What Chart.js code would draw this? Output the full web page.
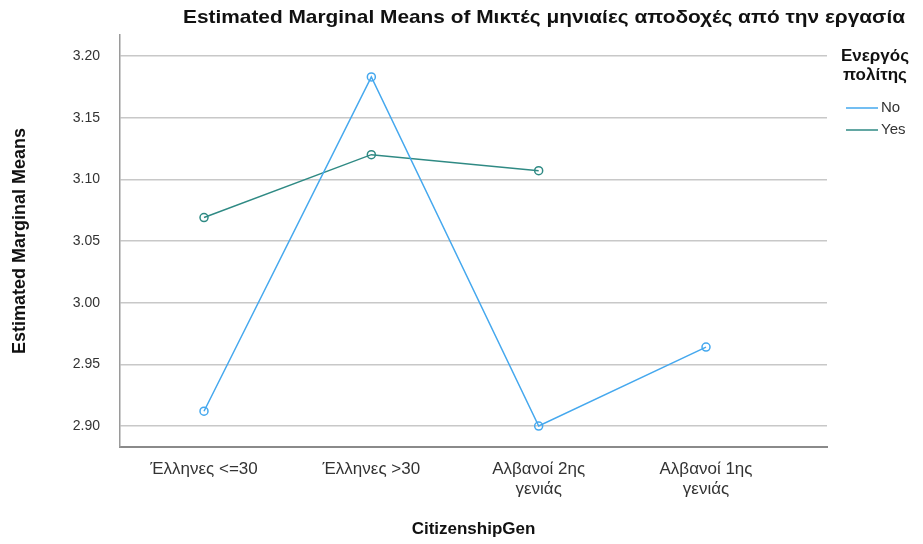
<!DOCTYPE html>
<html>
<head>
<meta charset="utf-8">
<script src="https://cdn.jsdelivr.net/npm/chart.js@4/dist/chart.umd.min.js"></script>
<style>
  html, body { margin: 0; padding: 0; background: #fff; }
  #wrap { width: 923px; height: 544px; }
</style>
</head>
<body>
<div id="wrap"><canvas id="emmChart"></canvas></div>
<script>
// ---- data ----
const categories = [['Έλληνες <=30'], ['Έλληνες >30'], ['Αλβανοί 2ης', 'γενιάς'], ['Αλβανοί 1ης', 'γενιάς']];
const seriesNo = [2.912, 3.183, 2.900, 2.964];
const seriesYes = [3.069, 3.120, 3.107, null];
const yTicks = [2.90, 2.95, 3.00, 3.05, 3.10, 3.15, 3.20];
const chartTitle = 'Estimated Marginal Means of Μικτές μηνιαίες αποδοχές από την εργασία';
const legendTitle = ['Ενεργός', 'πολίτης'];

const FONT = '"Liberation Sans Narrow", "Arial Narrow", "Liberation Sans", Arial, sans-serif';

function toPoints(values) {
    return values.map(function(v, i) { return { x: i, y: v }; });
}

// title + legend drawn around the plot, SPSS style
const sideLegend = {
    id: 'sideLegend',
    afterDraw: function(chart) {
        const ctx = chart.ctx;
        ctx.save();
        ctx.textBaseline = 'middle';

        // title fitted to the width it has in the original
        ctx.fillStyle = '#111';
        ctx.font = 'bold 19px ' + FONT;
        ctx.textAlign = 'right';
        const w = ctx.measureText(chartTitle).width;
        ctx.save();
        ctx.translate(905, 18);
        ctx.scale(722 / w, 1);
        ctx.fillText(chartTitle, 0, 0);
        ctx.restore();

        ctx.textAlign = 'center';
        ctx.font = 'bold 17px ' + FONT;
        ctx.fillText(legendTitle[0], 875, 56);
        ctx.fillText(legendTitle[1], 875, 75);
        ctx.font = '15px ' + FONT;
        ctx.textAlign = 'left';
        chart.data.datasets.forEach(function(ds, i) {
            const y = 108 + i * 22;
            ctx.strokeStyle = ds.borderColor;
            ctx.lineWidth = 1.5;
            ctx.beginPath();
            ctx.moveTo(846, y);
            ctx.lineTo(878, y);
            ctx.stroke();
            ctx.fillStyle = '#333';
            ctx.fillText(ds.label, 881, y);
        });
        ctx.restore();
    }
};

new Chart(document.getElementById('emmChart'), {
    type: 'line',
    data: {
        datasets: [{
            label: 'No',
            data: toPoints(seriesNo),
            borderColor: '#45a8ee',
            backgroundColor: 'rgba(0,0,0,0)',
            borderWidth: 1.5,
            pointRadius: 4,
            pointBorderWidth: 1.5,
            pointBorderColor: '#45a8ee',
            pointBackgroundColor: 'rgba(0,0,0,0)',
            tension: 0
        }, {
            label: 'Yes',
            data: toPoints(seriesYes),
            borderColor: '#2f8a84',
            backgroundColor: 'rgba(0,0,0,0)',
            borderWidth: 1.5,
            pointRadius: 4,
            pointBorderWidth: 1.5,
            pointBorderColor: '#2f8a84',
            pointBackgroundColor: 'rgba(0,0,0,0)',
            spanGaps: false,
            tension: 0
        }]
    },
    options: {
        responsive: true,
        maintainAspectRatio: false,
        animation: false,
        layout: { padding: { top: 35, right: 96, left: 0, bottom: 0 } },
        plugins: {
            legend: { display: false },
            tooltip: { enabled: false },
            title: { display: false }
        },
        scales: {
            x: {
                type: 'linear',
                min: -0.502,
                max: 3.723,
                afterBuildTicks: function(axis) {
                    axis.ticks = categories.map(function(c, i) { return { value: i }; });
                },
                afterFit: function(axis) { axis.height = 97; },
                ticks: {
                    callback: function(v) { return categories[v]; },
                    color: '#333',
                    font: { family: FONT, size: 17 },
                    padding: 12,
                    maxRotation: 0
                },
                grid: { display: false, drawTicks: false },
                border: { display: true, color: '#8a8a8a', width: 2 },
                title: {
                    display: true,
                    text: 'CitizenshipGen',
                    color: '#111',
                    font: { family: FONT, size: 17, weight: 'bold' },
                    padding: { top: 0, bottom: 4 }
                }
            },
            y: {
                min: 2.883,
                max: 3.217,
                afterBuildTicks: function(axis) {
                    axis.ticks = yTicks.map(function(v) { return { value: v }; });
                },
                afterFit: function(axis) { axis.width = 120; },
                ticks: {
                    callback: function(v) { return v.toFixed(2); },
                    color: '#333',
                    font: { family: FONT, size: 14 },
                    padding: 20
                },
                grid: { color: '#c8c8c8', lineWidth: 1.5, drawTicks: false },
                border: { display: true, color: '#9a9a9a', width: 1.5 },
                title: {
                    display: true,
                    text: 'Estimated Marginal Means',
                    color: '#111',
                    font: { family: FONT, size: 18, weight: 'bold' },
                    padding: { top: 9, bottom: 0 }
                }
            }
        }
    },
    plugins: [sideLegend]
});
</script>
</body>
</html>
